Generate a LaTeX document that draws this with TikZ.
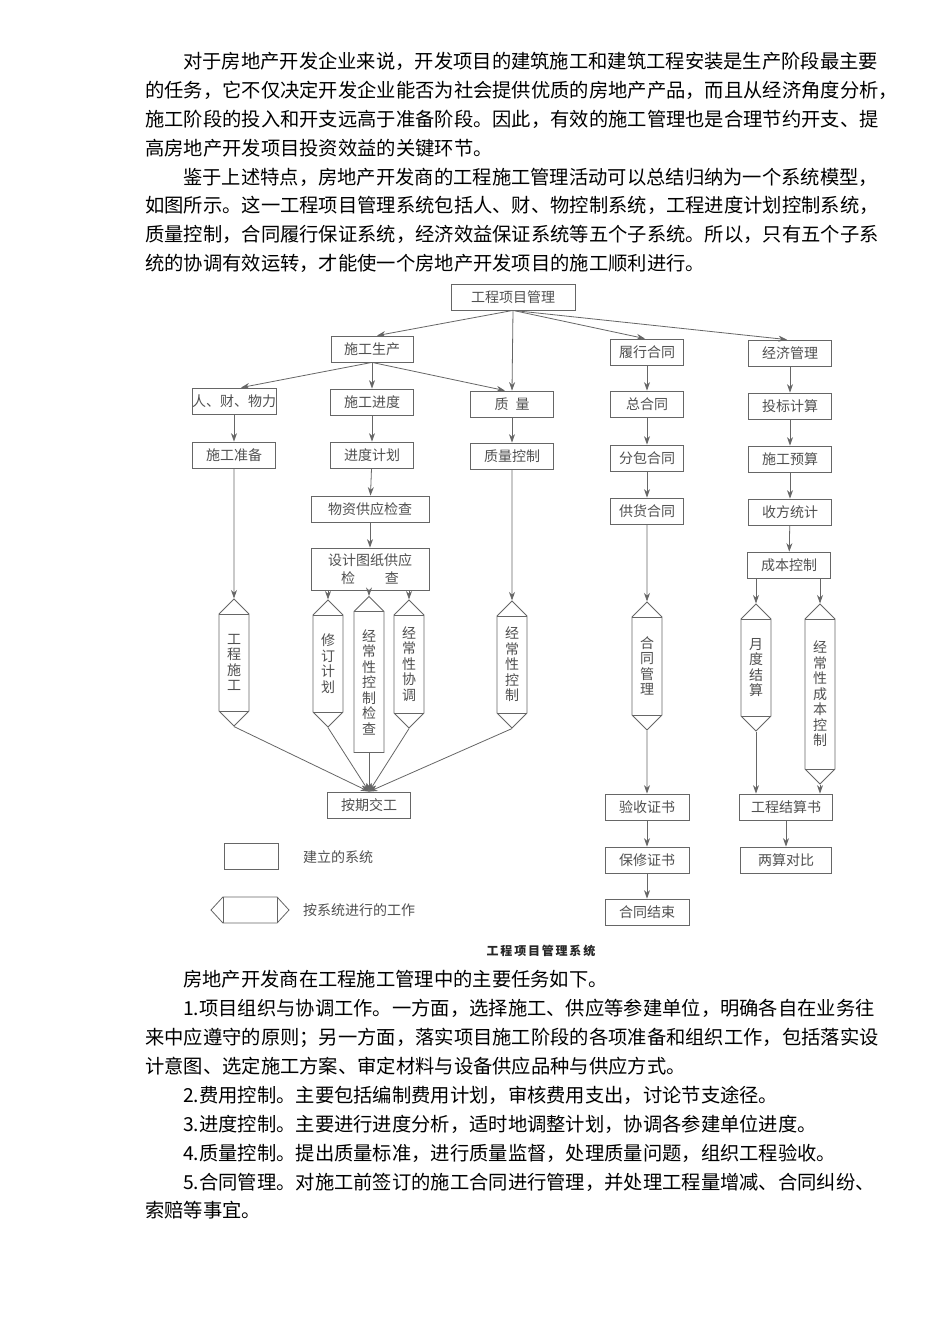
\documentclass[tikz,border=0pt]{standalone}
\usepackage{fontspec}
\setmainfont{Noto Sans CJK SC}
\newfontfamily\capfont[LetterSpace=15]{Noto Sans CJK SC}
\usetikzlibrary{arrows.meta,shapes.symbols}
\definecolor{linec}{HTML}{666666}
\definecolor{textc}{HTML}{505050}
\newcommand{\bodyfont}{\fontsize{19.3}{29}\selectfont}
\newcommand{\diagfont}{\fontsize{14}{18}\selectfont}
\newcommand{\vertfont}{\fontsize{14}{15.5}\selectfont}

\begin{document}
\begin{tikzpicture}[x=1pt,y=-1pt,>={Stealth[length=8.5pt,width=6pt]},
  sys/.style={draw=linec,line width=0.8pt,minimum width=83pt,minimum height=26pt,inner sep=0pt,font=\diagfont,text=textc},
  work/.style={draw=linec,line width=0.8pt,shape=signal,signal to=north and south,signal pointer angle=90,minimum width=30pt,inner sep=0pt,align=center,font=\vertfont,text=textc,
    path picture={\draw[linec,line width=0.8pt]
      ([yshift=-15pt]path picture bounding box.north west) -- ([yshift=-15pt]path picture bounding box.north east)
      ([yshift=15pt]path picture bounding box.south west) -- ([yshift=15pt]path picture bounding box.south east);}},
  flatwork/.style={work,signal to=north,
    path picture={\draw[linec,line width=0.8pt]
      ([yshift=-15pt]path picture bounding box.north west) -- ([yshift=-15pt]path picture bounding box.north east);}},
  sidework/.style={work,signal to=west and east,signal pointer angle=95,
    path picture={\draw[linec,line width=0.8pt]
      ([xshift=12pt]path picture bounding box.north west) -- ([xshift=12pt]path picture bounding box.south west)
      ([xshift=-12pt]path picture bounding box.north east) -- ([xshift=-12pt]path picture bounding box.south east);}},
  link/.style={draw=linec,line width=0.8pt,->},
  bodyline/.style={anchor=base west,inner sep=0pt,font=\bodyfont}]
  \fill[white] (0,0) rectangle (950,1344);

  % text above the figure
  \node[bodyline] (p1a) at (183,68.3) {对于房地产开发企业来说，开发项目的建筑施工和建筑工程安装是生产阶段最主要};
  \node[bodyline] (p1b) at (145,97.3) {的任务，它不仅决定开发企业能否为社会提供优质的房地产产品，而且从经济角度分析，};
  \node[bodyline] (p1c) at (145,126.3) {施工阶段的投入和开支远高于准备阶段。因此，有效的施工管理也是合理节约开支、提};
  \node[bodyline] (p1d) at (145,155.3) {高房地产开发项目投资效益的关键环节。};
  \node[bodyline] (p2a) at (183,184.3) {鉴于上述特点，房地产开发商的工程施工管理活动可以总结归纳为一个系统模型，};
  \node[bodyline] (p2b) at (145,212.3) {如图所示。这一工程项目管理系统包括人、财、物控制系统，工程进度计划控制系统，};
  \node[bodyline] (p2c) at (145,241.3) {质量控制，合同履行保证系统，经济效益保证系统等五个子系统。所以，只有五个子系};
  \node[bodyline] (p2d) at (145,270.3) {统的协调有效运转，才能使一个房地产开发项目的施工顺利进行。};

  % boxes
  \node[sys,minimum width=124pt] (gcxm) at (513,297) {工程项目管理};
  \node[sys,minimum width=82pt] (sgsc) at (372,349) {施工生产};
  \node[sys] (rcw) at (234,401) {人、财、物力};
  \node[sys] (sgjd) at (372,402) {施工进度};
  \node[sys] (zl) at (512,404) {质\hspace{0.5em}量};
  \node[sys] (sgzb) at (234,455) {施工准备};
  \node[sys] (jdjh) at (372,455) {进度计划};
  \node[sys] (zlkz) at (512,456) {质量控制};
  \node[sys,minimum width=118pt] (wzgy) at (370,509) {物资供应检查};
  \node[sys,minimum width=118pt,minimum height=42pt,align=center] (sjtz) at (370,569) {设计图纸供应\\检\hspace{30pt}查};
  \node[sys,minimum width=73pt] (lxht) at (647,352) {履行合同};
  \node[sys,minimum width=73pt] (zht) at (647,404) {总合同};
  \node[sys,minimum width=73pt] (fbht) at (647,458) {分包合同};
  \node[sys,minimum width=73pt] (ghht) at (647,511) {供货合同};
  \node[sys] (jjgl) at (790,353) {经济管理};
  \node[sys] (tbjs) at (790,406) {投标计算};
  \node[sys] (sgys) at (790,459) {施工预算};
  \node[sys] (sftj) at (790,512) {收方统计};
  \node[sys] (cbkz) at (789,565) {成本控制};

  % work done by the system
  \node[work,minimum height=111pt] (gcsg) at (234,662.5) {工\\程\\施\\工};
  \node[work,minimum height=111pt] (xdjh) at (328,663.5) {修\\订\\计\\划};
  \node[flatwork,minimum height=148pt] (kzjc) at (369,682) {经\\常\\性\\控\\制\\检\\查};
  \node[work,minimum height=112pt] (jcxt) at (409,664) {经\\常\\性\\协\\调};
  \node[work,minimum height=111pt] (jcxk) at (512,664.5) {经\\常\\性\\控\\制};
  \node[work,minimum height=112pt] (htgl) at (647,666) {合\\同\\管\\理};
  \node[work,minimum height=111pt] (ydjs) at (756,667.5) {月\\度\\结\\算};
  \node[work,minimum height=164pt] (cbxk) at (820,694) {经\\常\\性\\成\\本\\控\\制};

  \node[sys] (aqjg) at (369,805) {按期交工};
  \node[sys,minimum width=84pt] (yszs) at (647,807) {验收证书};
  \node[sys,minimum width=84pt] (bxzs) at (647,860) {保修证书};
  \node[sys,minimum width=84pt] (htjs) at (647,912) {合同结束};
  \node[sys,minimum width=93pt] (gcjs) at (786,807) {工程结算书};
  \node[sys,minimum width=91pt] (lsdb) at (786,860) {两算对比};

  % legend
  \node[sys,minimum width=54pt] (lgbox) at (251,856) {};
  \node[anchor=west,inner sep=0pt,font=\diagfont,text=textc] (lgboxt) at (303,857) {建立的系统};
  \node[sidework,minimum width=78pt,minimum height=26pt] (lghex) at (250,910) {};
  \node[anchor=west,inner sep=0pt,font=\diagfont,text=textc] (lghext) at (303,910) {按系统进行的工作};
  \node[font=\capfont\fontsize{12}{14}\selectfont\bfseries,text=black!85] (cap) at (541,951) {工程项目管理系统};

  % connectors
  \draw[link] (gcxm.south) -- ([xshift=5pt]sgsc.north);
  \draw[link] (gcxm.south) -- (zl.north);
  \draw[link] (gcxm.south) -- ([xshift=-2pt]lxht.north);
  \draw[link] (gcxm.south) -- ([xshift=-3pt]jjgl.north);
  \draw[link] (sgsc.south) -- ([xshift=7pt]rcw.north);
  \draw[link] (sgsc) -- (sgjd);
  \draw[link] (sgsc.south) -- ([xshift=-7pt]zl.north);
  \foreach \a/\b in {rcw/sgzb,sgzb/gcsg,sgjd/jdjh,jdjh/wzgy,wzgy/sjtz,zl/zlkz,zlkz/jcxk,
      lxht/zht,zht/fbht,fbht/ghht,ghht/htgl,htgl/yszs,yszs/bxzs,bxzs/htjs,
      jjgl/tbjs,tbjs/sgys,sgys/sftj,sftj/cbkz,gcjs/lsdb}
    \draw[link] (\a) -- (\b);
  \foreach \h in {xdjh,kzjc,jcxt}
    \draw[link] (\h.north |- sjtz.south) -- (\h.north);
  \foreach \h in {ydjs,cbxk}
    \draw[link] (\h.north |- cbkz.south) -- (\h.north);
  \foreach \h in {ydjs,cbxk}
    \draw[link] (\h.south) -- (\h.south |- gcjs.north);
  \foreach \h in {gcsg,xdjh,kzjc,jcxt,jcxk}
    \draw[link] (\h.south) -- (aqjg.north);

  % text below the figure
  \node[bodyline] (p3) at (183,986.3) {房地产开发商在工程施工管理中的主要任务如下。};
  \node[bodyline] (p4a) at (183,1015.3) {1.项目组织与协调工作。一方面，选择施工、供应等参建单位，明确各自在业务往};
  \node[bodyline] (p4b) at (145,1044.3) {来中应遵守的原则；另一方面，落实项目施工阶段的各项准备和组织工作，包括落实设};
  \node[bodyline] (p4c) at (145,1073.3) {计意图、选定施工方案、审定材料与设备供应品种与供应方式。};
  \node[bodyline] (p5) at (183,1102.3) {2.费用控制。主要包括编制费用计划，审核费用支出，讨论节支途径。};
  \node[bodyline] (p6) at (183,1131.3) {3.进度控制。主要进行进度分析，适时地调整计划，协调各参建单位进度。};
  \node[bodyline] (p7) at (183,1160.3) {4.质量控制。提出质量标准，进行质量监督，处理质量问题，组织工程验收。};
  \node[bodyline] (p8a) at (183,1189.3) {5.合同管理。对施工前签订的施工合同进行管理，并处理工程量增减、合同纠纷、};
  \node[bodyline] (p8b) at (145,1217.3) {索赔等事宜。};
\end{tikzpicture}
\end{document}
